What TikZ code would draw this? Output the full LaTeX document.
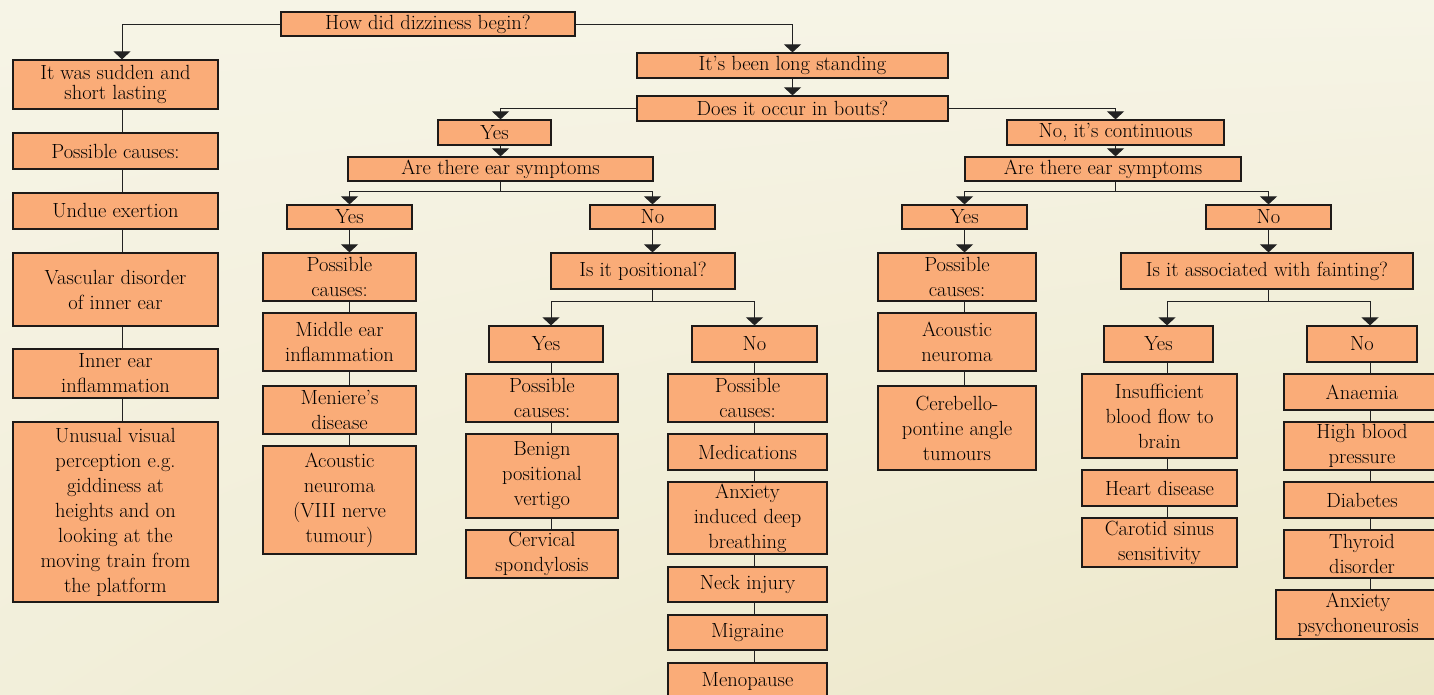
\documentclass[tikz,border=0pt]{standalone}
\usetikzlibrary{arrows.meta,shadings}
\definecolor{bgtop}{HTML}{F6F4E6}
\definecolor{bgbot}{HTML}{ECE7C8}
\definecolor{boxfill}{HTML}{FAAC78}
\definecolor{boxline}{HTML}{1E1A18}
\definecolor{wire}{HTML}{222222}
\tikzset{
  box/.style={draw=boxline, fill=boxfill, line width=1.2pt, align=center,
    inner sep=0pt, font=\fontsize{20.5}{25}\selectfont},
  sz/.style 2 args={minimum width=#1pt, minimum height=#2pt},
  link/.style={draw=wire, line width=1pt},
  flow/.style={link, -{Triangle[width=17pt,length=8pt]}},
}

\begin{document}
\begin{tikzpicture}[x=1pt,y=-1pt]
    %% background
    \useasboundingbox (0,0) rectangle (1434,694);
    \clip (0,0) rectangle (1434,694);
    \shade[upper left=bgtop, upper right=bgtop, lower left=bgtop!60!bgbot, lower right=bgbot]
        (0,0) rectangle (1434,694);
    \coordinate (colA) at (122,0);
    \coordinate (colC) at (551,0);
    \coordinate (colF) at (1167,0);
    \coordinate (colG) at (1370,0);

    %% first question
    \node[box,sz={294}{24}] (begin) at (428,24) {How did dizziness begin?};

    %% sudden onset
    \node[box,sz={205}{49},font=\fontsize{20.5}{20}\selectfont] (sudden) at (115.5,84.5) {It was sudden and\\short lasting};
    \node[box,sz={205}{36}] (lcauses) at (115.5,151) {Possible causes:};
    \node[box,sz={205}{36}] (exertion) at (115.5,211) {Undue exertion};
    \node[box,sz={205}{73}] (vascular) at (115.5,289.5) {Vascular disorder\\of inner ear};
    \node[box,sz={205}{49}] (innerinfl) at (115.5,373.5) {Inner ear\\inflammation};
    \node[box,sz={205}{180}] (visual) at (115.5,512) {Unusual visual\\perception e.g.\\giddiness at\\heights and on\\looking at the\\moving train from\\the platform};

    %% long standing
    \node[box,sz={311}{25}] (longst) at (792.5,65.5) {It's been long standing};
    \node[box,sz={311}{25}] (bouts) at (792.5,108.5) {Does it occur in bouts?};
    \node[box,sz={113}{25}] (yesB) at (494.5,132.5) {Yes};
    \node[box,sz={217}{25}] (noC) at (1115.5,132.5) {No, it's continuous};
    \node[box,sz={305}{24}] (earL) at (500.5,169) {Are there ear symptoms};
    \node[box,sz={276}{24}] (earR) at (1103,169) {Are there ear symptoms};

    %% in bouts
    \node[box,sz={125}{24}] (yesL) at (349.5,217) {Yes};
    \node[box,sz={125}{24}] (noL) at (652.5,217) {No};
    \node[box,sz={153}{48}] (causesL) at (339.5,277) {Possible\\causes:};
    \node[box,sz={153}{58}] (middle) at (339.5,342) {Middle ear\\inflammation};
    \node[box,sz={153}{48}] (meniere) at (339.5,410) {Meniere's\\disease};
    \node[box,sz={153}{108}] (acousticL) at (339.5,500) {Acoustic\\neuroma\\(VIII nerve\\tumour)};
    \node[box,sz={184}{36}] (positional) at (643,271) {Is it positional?};
    \node[box,sz={114}{36}] (yesP) at (546,344) {Yes};
    \node[box,sz={125}{36}] (noP) at (754.5,344) {No};
    \node[box,sz={152}{48}] (causesP) at (542,398) {Possible\\causes:};
    \node[box,sz={152}{84}] (benign) at (542,476) {Benign\\positional\\vertigo};
    \node[box,sz={152}{48}] (cervical) at (542,554) {Cervical\\spondylosis};
    \node[box,sz={159}{48}] (causesN) at (747.5,398) {Possible\\causes:};
    \node[box,sz={159}{36}] (medic) at (747.5,452) {Medications};
    \node[box,sz={159}{72}] (anxiety) at (747.5,518) {Anxiety\\induced deep\\breathing};
    \node[box,sz={159}{35}] (neck) at (747.5,584.5) {Neck injury};
    \node[box,sz={159}{35}] (migraine) at (747.5,632.5) {Migraine};
    \node[box,sz={159}{37}] (menopause) at (747.5,681.5) {Menopause};

    %% continuous
    \node[box,sz={125}{24}] (yesR) at (964.5,217) {Yes};
    \node[box,sz={125}{24}] (noR) at (1268.5,217) {No};
    \node[box,sz={158}{48}] (causesR) at (957,277) {Possible\\causes:};
    \node[box,sz={158}{58}] (acousticR) at (957,342) {Acoustic\\neuroma};
    \node[box,sz={158}{84}] (cerebello) at (957,428) {Cerebello-\\pontine angle\\tumours};
    \node[box,sz={292}{36}] (fainting) at (1267,271) {Is it associated with fainting?};
    \node[box,sz={109}{36}] (yesF) at (1158.5,344) {Yes};
    \node[box,sz={110}{36}] (noF) at (1362,344) {No};
    \node[box,sz={155}{84}] (insuff) at (1159.5,416) {Insufficient\\blood flow to\\brain};
    \node[box,sz={155}{36}] (heart) at (1159.5,488) {Heart disease};
    \node[box,sz={155}{49}] (carotid) at (1159.5,542.5) {Carotid sinus\\sensitivity};
    \node[box,sz={156}{36}] (anaemia) at (1362,392) {Anaemia};
    \node[box,sz={156}{48}] (highbp) at (1362,446) {High blood\\pressure};
    \node[box,sz={156}{36}] (diabetes) at (1362,500) {Diabetes};
    \node[box,sz={156}{48}] (thyroid) at (1362,554) {Thyroid\\disorder};
    \node[box,sz={164}{49}] (anxpsy) at (1358,614.5) {Anxiety\\psychoneurosis};

    %% arrows between questions and answers
    \draw[flow] (begin.west) -| (sudden.north -| colA);
    \draw[flow] (begin.east) -| (longst.north);
    \draw[flow] (longst.south) -- (bouts.north);
    \draw[flow] (bouts.west) -| (yesB.north -| earL.north);
    \draw[flow] (bouts.east) -| (noC.north);
    \draw[flow] (yesB.south -| earL.north) -- (earL.north);
    \draw[flow] (noC.south) -- (noC.south |- earR.north);
    \draw[link] (earL.south) -- ++(0,10) coordinate (forkL);
    \draw[flow] (forkL) -| (yesL.north);
    \draw[flow] (forkL) -| (noL.north);
    \draw[link] (noC.south |- earR.south) -- ++(0,10) coordinate (forkR);
    \draw[flow] (forkR) -| (yesR.north);
    \draw[flow] (forkR) -| (noR.north);
    \draw[flow] (yesL.south) -- (yesL.south |- causesL.north);
    \draw[flow] (noL.south) -- (noL.south |- positional.north);
    \draw[link] (noL.south |- positional.south) -- ++(0,12) coordinate (forkP);
    \draw[flow] (forkP) -| (yesP.north -| colC);
    \draw[flow] (forkP) -| (noP.north);
    \draw[flow] (yesR.south) -- (yesR.south |- causesR.north);
    \draw[flow] (noR.south) -- (noR.south |- fainting.north);
    \draw[link] (noR.south |- fainting.south) -- ++(0,12) coordinate (forkF);
    \draw[flow] (forkF) -| (yesF.north -| colF);
    \draw[flow] (forkF) -| (noF.north -| colG);

    %% plain links down each list of causes
    \foreach \a/\b in {sudden/lcauses,lcauses/exertion,exertion/vascular,vascular/innerinfl,innerinfl/visual}
        \draw[link] (\a.south -| colA) -- (\b.north -| colA);
    \foreach \a/\b in {causesL/middle,middle/meniere,meniere/acousticL}
        \draw[link] (\a.south -| yesL) -- (\b.north -| yesL);
    \foreach \a/\b in {yesP/causesP,causesP/benign,benign/cervical}
        \draw[link] (\a.south -| colC) -- (\b.north -| colC);
    \foreach \a/\b in {noP/causesN,causesN/medic,medic/anxiety,anxiety/neck,neck/migraine,migraine/menopause}
        \draw[link] (\a.south -| noP) -- (\b.north -| noP);
    \foreach \a/\b in {causesR/acousticR,acousticR/cerebello}
        \draw[link] (\a.south -| yesR) -- (\b.north -| yesR);
    \foreach \a/\b in {yesF/insuff,insuff/heart,heart/carotid}
        \draw[link] (\a.south -| colF) -- (\b.north -| colF);
    \foreach \a/\b in {noF/anaemia,anaemia/highbp,highbp/diabetes,diabetes/thyroid,thyroid/anxpsy}
        \draw[link] (\a.south -| colG) -- (\b.north -| colG);
\end{tikzpicture}
\end{document}
